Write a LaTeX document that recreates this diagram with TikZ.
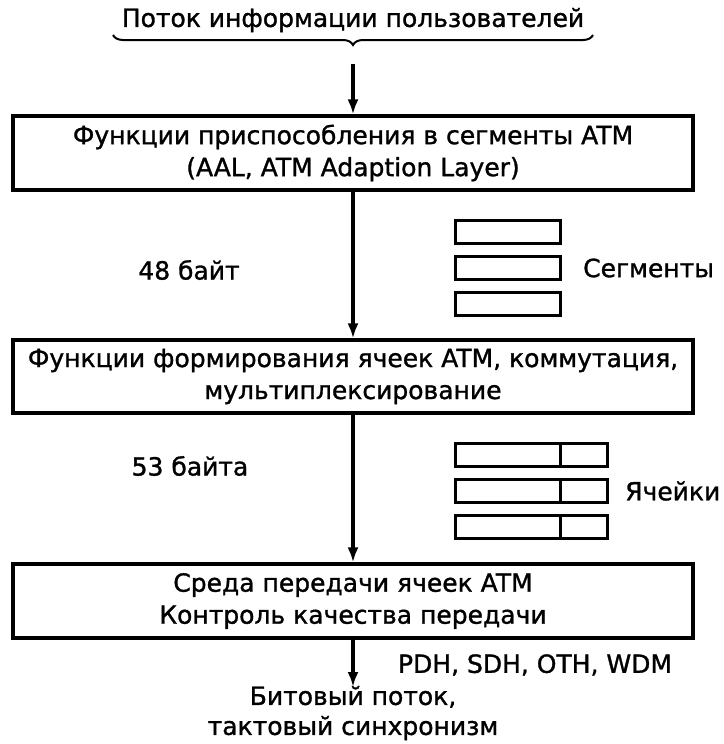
\documentclass[tikz,border=0pt]{standalone}
\usepackage{fontspec}
\setmainfont{DejaVu Sans}[BoldFont=DejaVu Sans, BoldFeatures={FakeBold=1.2}]
\usetikzlibrary{arrows.meta}
\usetikzlibrary{decorations.pathreplacing}

\tikzset{
  layerbox/.style={draw, line width=3.2pt, minimum width=680pt, minimum height=74pt, align=center, inner sep=0pt},
  segbox/.style={draw, line width=3pt, minimum width=105pt, minimum height=23pt, inner sep=0pt},
  hdrbox/.style={draw, line width=3pt, minimum width=47pt, minimum height=23pt, inner sep=0pt},
  flow/.style={line width=3.2pt, -{Latex[length=15pt,width=11pt]}},
  lbl/.style={inner sep=0pt, align=center}
}

\begin{document}
\begin{tikzpicture}[x=1pt,y=1pt,yscale=-1,xscale=1,font=\fontsize{25}{32}\bfseries]
\useasboundingbox (0,0) rectangle (723,744);

% Text Node
\node [lbl] (users) at (353,20) {Поток информации пользователей};
% Brace
\draw [line width=2pt, decorate, decoration={brace, amplitude=10pt, aspect=0.5}] (593,35) -- (113,35) coordinate[pos=0.5] (bracemid);
\coordinate (flowin) at (353,64);

% Text Node
\node [layerbox] (aal) at (353,153) {Функции приспособления в сегменты ATM\\(AAL, ATM Adaption Layer)};
% Text Node
\node [layerbox, minimum height=73pt] (atm) at (353,376.5) {Функции формирования ячеек ATM, коммутация,\\мультиплексирование};
% Text Node
\node [layerbox] (phy) at (353,601) {Среда передачи ячеек ATM\\Контроль качества передачи};

% Segments
\node [segbox] (seg1) at (507.5,231.5) {};
\node [segbox] (seg2) at (507.5,268) {};
\node [segbox] (seg3) at (507.5,303.5) {};
\node [lbl, anchor=west] (seglbl) at (583,268) {Сегменты};
\node [lbl] (bytes48) at (189,270) {48 байт};

% Cells
\foreach \y [count=\i] in {454.5,491,526.5} {
  \node [segbox] (cell\i) at (507.5,\y) {};
  \node [hdrbox] (hdr\i) at (583.5,\y) {};
}
\node [lbl, anchor=west] (celllbl) at (625,491) {Ячейки};
\node [lbl] (bytes53) at (190,466) {53 байта};

% Bottom
\coordinate (flowout) at (353,687);
\node [lbl] (phylbl) at (535,665) {PDH, SDH, OTH, WDM};
\node [lbl, font=\fontsize{25}{30}\bfseries] (bits) at (353,713) {Битовый поток,\\тактовый синхронизм};

% Connection
\draw [flow] (flowin) -- (aal.north);
% Connection
\draw [flow] (aal.south) -- (atm.north);
% Connection
\draw [flow] (atm.south) -- (phy.north);
% Connection
\draw [flow] (phy.south) -- (flowout);

\end{tikzpicture}
\end{document}
